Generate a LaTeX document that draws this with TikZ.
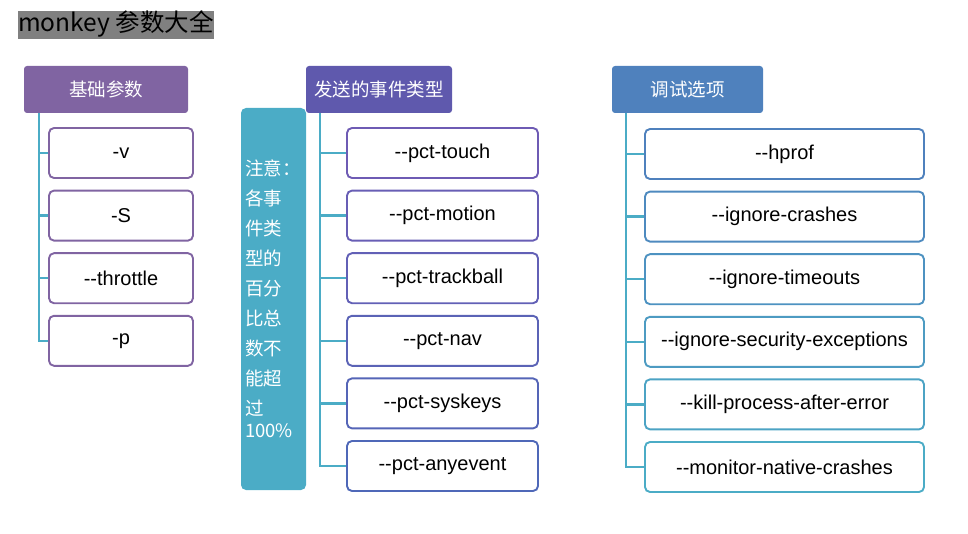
\documentclass[tikz,border=0pt]{standalone}
\usepackage{fontspec}
\setmainfont{Liberation Sans}
\newfontfamily\cjk{Noto Sans CJK SC}
\usetikzlibrary{positioning}
\definecolor{hdrpurple}{HTML}{8064A2}
\definecolor{hdrindigo}{HTML}{5F59AD}
\definecolor{hdrblue}{HTML}{4F81BD}
\definecolor{spine}{HTML}{4BACC6}
\definecolor{indigoB}{HTML}{6E5BB4}
\definecolor{blueB}{HTML}{4F68B8}
\definecolor{titlegray}{HTML}{808080}

\begin{document}
\begin{tikzpicture}[x=1pt,y=-1pt,node distance=62.6pt,
    hdr/.style={rectangle,rounded corners=3pt,text=white,minimum height=47pt,
                font=\cjk\fontsize{18.5}{20}\selectfont},
    opt/.style={rectangle,draw,line width=1.9pt,rounded corners=5pt,fill=white,
                minimum height=50pt,font=\fontsize{20}{22}\selectfont},
    link/.style={draw=spine,line width=2.4pt}]

        \useasboundingbox (0,0) rectangle (968,534);

        % title
        \node[fill=titlegray,anchor=west,inner xsep=0pt,inner ysep=0pt,text height=21pt,
              text depth=7pt,font=\cjk\fontsize{24.5}{26}\selectfont]  (T)  at (18,25)  {monkey 参数大全};

        % headers
        \node[hdr,fill=hdrpurple,minimum width=164pt]  (HB)  at (106,89.5)    {基础参数};
        \node[hdr,fill=hdrindigo,minimum width=146pt]  (HE)  at (379,89.5)    {发送的事件类型};
        \node[hdr,fill=hdrblue,minimum width=151pt]    (HD)  at (687.5,89.5)  {调试选项};

        % note
        \node[rectangle,rounded corners=5pt,fill=spine,text=white,minimum width=65pt,
              minimum height=382pt,text width=57pt,inner xsep=4pt,align=left,
              font=\cjk\fontsize{18.5}{30}\selectfont]  (N)  at (273.5,299)
              {注意：\\各事\\件类\\型的\\百分\\比总\\数不\\能超\\过\\[-8pt]100\%};

        % basic options
        \node[opt,draw=hdrpurple,minimum width=144pt]  (B01)  at (121,153)   {-v};
        \node[opt,draw=hdrpurple,minimum width=144pt]  (B02)  [below of=B01]  {-S};
        \node[opt,draw=hdrpurple,minimum width=144pt]  (B03)  [below of=B02]  {-{}-throttle};
        \node[opt,draw=hdrpurple,minimum width=144pt]  (B04)  [below of=B03]  {-p};

        % event types
        \node[opt,draw=indigoB,minimum width=191pt]           (E01)  at (442.5,153)  {-{}-pct-touch};
        \node[opt,draw=indigoB!80!blueB,minimum width=191pt]  (E02)  [below of=E01]   {-{}-pct-motion};
        \node[opt,draw=indigoB!60!blueB,minimum width=191pt]  (E03)  [below of=E02]   {-{}-pct-trackball};
        \node[opt,draw=indigoB!40!blueB,minimum width=191pt]  (E04)  [below of=E03]   {-{}-pct-nav};
        \node[opt,draw=indigoB!20!blueB,minimum width=191pt]  (E05)  [below of=E04]   {-{}-pct-syskeys};
        \node[opt,draw=blueB,minimum width=191pt]             (E06)  [below of=E05]   {-{}-pct-anyevent};

        % debug options
        \node[opt,draw=hdrblue,minimum width=279pt]           (D01)  at (784.5,154)  {-{}-hprof};
        \node[opt,draw=hdrblue!80!spine,minimum width=279pt]  (D02)  [below of=D01] {-{}-ignore-crashes};
        \node[opt,draw=hdrblue!60!spine,minimum width=279pt]  (D03)  [below of=D02] {-{}-ignore-timeouts};
        \node[opt,draw=hdrblue!40!spine,minimum width=279pt]  (D04)  [below of=D03] {-{}-ignore-security-exceptions};
        \node[opt,draw=hdrblue!20!spine,minimum width=279pt]  (D05)  [below of=D04] {-{}-kill-process-after-error};
        \node[opt,draw=spine,minimum width=279pt]             (D06)  [below of=D05] {-{}-monitor-native-crashes};

        % tree lines
        \coordinate (SB) at ([xshift=15pt]HB.south west);
        \coordinate (SE) at ([xshift=14pt]HE.south west);
        \coordinate (SD) at ([xshift=14pt]HD.south west);

        \foreach \n in {B01,B02,B03,B04}
            \draw[link] (SB) |- (\n.west);
        \foreach \n in {E01,E02,E03,E04,E05,E06}
            \draw[link] (SE) |- (\n.west);
        \foreach \n in {D01,D02,D03,D04,D05,D06}
            \draw[link] (SD) |- (\n.west);
\end{tikzpicture}
\end{document}
